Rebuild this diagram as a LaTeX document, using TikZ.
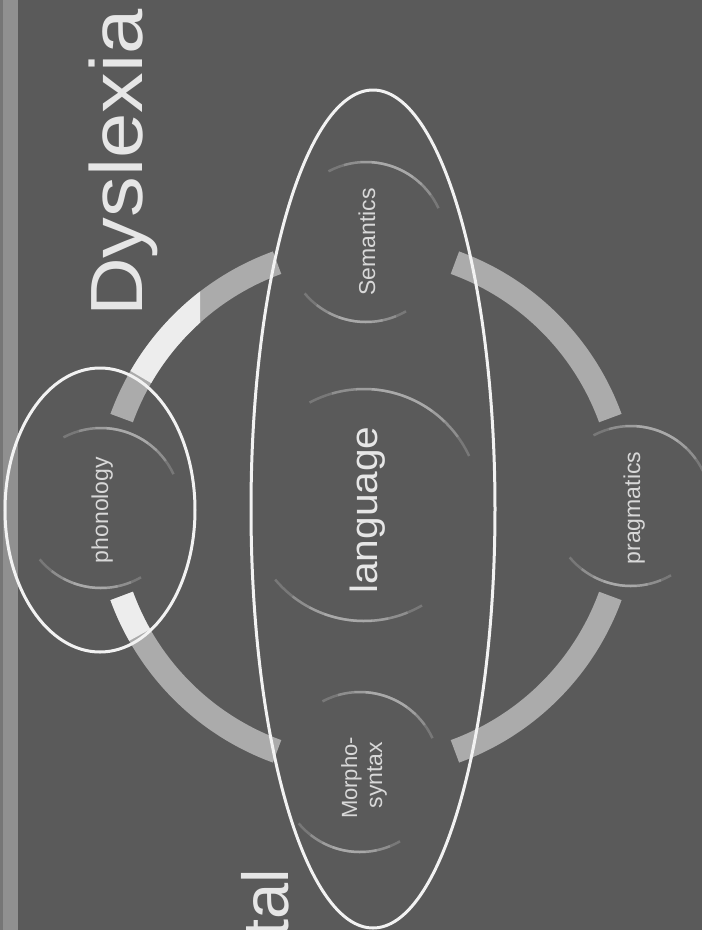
\documentclass[tikz,border=0pt]{standalone}
\usepackage{fontspec}
\setmainfont{Liberation Sans}
\usetikzlibrary{calc}
\definecolor{bg}{HTML}{5A5A5A}
\definecolor{stripcol}{HTML}{909090}
\definecolor{stripedge}{HTML}{767676}
\definecolor{ringgray}{HTML}{ABABAB}
\definecolor{glare}{HTML}{EDEDED}
\definecolor{hilite}{HTML}{C8C8C8}
\definecolor{txt}{HTML}{D8D8D8}
\definecolor{txtbright}{HTML}{E6E6E6}
\definecolor{ovalwhite}{HTML}{F2F2F2}
\begin{document}
\begin{tikzpicture}[x=1pt,y=-1pt,
  satnode/.style={circle, minimum size=160pt, inner sep=0pt},
  centernode/.style={circle, minimum size=232pt, inner sep=0pt},
  sattext/.style={rotate=90, anchor=base, inner sep=0pt, text=txt, font=\fontsize{23}{25}\selectfont},
  bigtext/.style={rotate=90, inner sep=0pt, text=txtbright},
  ringband/.style={draw=ringgray, line width=24pt, line cap=butt},
  glareband/.style={draw=glare, line width=24pt, line cap=butt},
  ovalring/.style={draw=ovalwhite, line width=3pt},
  hiarc/.style={draw=hilite, line width=2.5pt, opacity=0.28},
]
% background and margins
\fill[bg] (0,0) rectangle (702,930);
\useasboundingbox (0,0) rectangle (702,930);
\fill[stripcol] (0,0) rectangle (18,930);
\fill[stripedge] (0,0) rectangle (3,930);

% nodes
\coordinate (c) at (366,507);
\node[centernode] (lang) at (364,505) {};
\node[satnode] (sem) at (366,242) {};
\node[satnode] (pho) at (101,508) {};
\node[satnode] (mor) at (360,772) {};
\node[satnode] (pra) at (631,506) {};

% ring segments (cycle connectors)
\draw[ringband] ($(c)+(-110:260)$) arc[start angle=-110, end angle=-160, radius=260];
\draw[ringband] ($(c)+(160:260)$) arc[start angle=160, end angle=110, radius=260];
\draw[ringband] ($(c)+(70:260)$) arc[start angle=70, end angle=20, radius=260];
\draw[ringband] ($(c)+(-20:260)$) arc[start angle=-20, end angle=-70, radius=260];
% glare on the ring
\begin{scope}
  \clip (0,0) rectangle (200,930);
  \draw[glareband] ($(c)+(-120:260)$) arc[start angle=-120, end angle=-150, radius=260];
\end{scope}
\draw[glareband] ($(c)+(160:260)$) arc[start angle=160, end angle=150.5, radius=260];

% glossy highlight arcs of the circles
\foreach \n/\r in {sem/80, pho/80, mor/80, pra/80, lang/116} {
  \foreach \a/\b in {-25/-118, -36/-106, -46/-94, -54/-86} {
    \draw[hiarc] ($(\n.center)+(\a:\r)$) arc[start angle=\a, end angle=\b, radius=\r];
  }
  \foreach \a/\b in {140/60, 128/68, 118/78, 110/86} {
    \draw[hiarc] ($(\n.center)+(\a:\r)$) arc[start angle=\a, end angle=\b, radius=\r];
  }
}

% texts
\node[sattext] (semt) at (375,242) {Semantics};
\node[sattext] (phot) at (108,510) {phonology};
\node[sattext] (prat) at (640,508) {pragmatics};
\node[sattext, font=\fontsize{22}{25}\selectfont] (mort1) at (357,778) {Morpho-};
\node[sattext] (mort2) at (382,775) {syntax};
\node[bigtext, anchor=base, font=\fontsize{38}{40}\selectfont] (langt) at (377,510) {\scalebox{1.07}[1]{language}};
\node[bigtext, anchor=base west, font=\fontsize{74}{80}\selectfont] (title) at (142,317) {\scalebox{1.1}[1]{Dyslexia}};
\node[bigtext, anchor=base east, font=\fontsize{65}{70}\selectfont] (sub) at (288,869) {tal};

% hand-drawn white ovals
\draw[ovalring] (373,509) ellipse [x radius=122, y radius=419];
\draw[ovalring] (100,510) ellipse [x radius=95, y radius=142];
\end{tikzpicture}
\end{document}
